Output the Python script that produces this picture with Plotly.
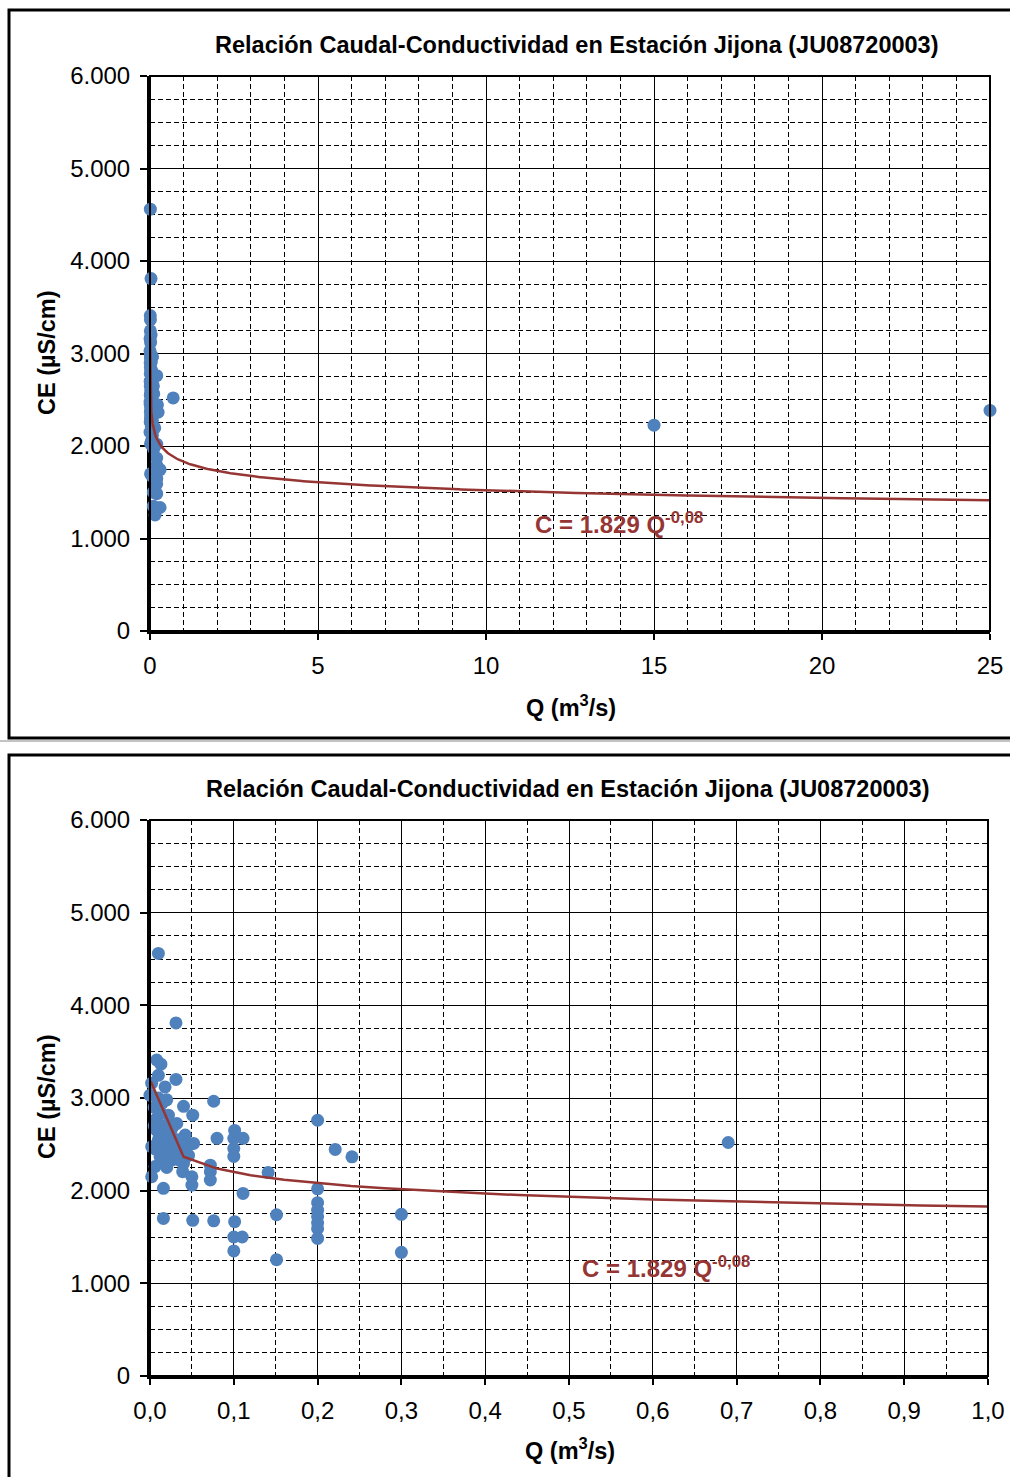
import plotly.graph_objects as go

W, H = 1010, 1477
OFF = 0  # body margin is removed by the post script below

# ---- data ----
Q = [0.010, 0.031, 0.008, 0.013, 0.010, 0.031, 0.002, 0.018, 0.000, 0.020,
     0.076, 0.040, 0.051, 0.022, 0.008, 0.032, 0.200, 0.101, 0.080, 0.100,
     0.111, 0.042, 0.052, 0.002, 0.018, 0.100, 0.100, 0.030, 0.012, 0.221,
     0.241, 0.040, 0.016, 0.006, 0.072, 0.072, 0.072, 0.039, 0.050, 0.050,
     0.002, 0.141, 0.016, 0.111, 0.200, 0.200, 0.200, 0.200, 0.200, 0.200,
     0.200, 0.151, 0.300, 0.300, 0.016, 0.051, 0.076, 0.101, 0.100, 0.110,
     0.100, 0.151, 0.690, 15.0, 25.0,
     0.005, 0.008, 0.010, 0.012, 0.015, 0.020, 0.025, 0.028, 0.033, 0.036,
     0.045, 0.005, 0.012, 0.022, 0.026, 0.035, 0.014, 0.006, 0.046, 0.020,
     0.028, 0.010, 0.015]
CE = [4560, 3810, 3410, 3365, 3245, 3200, 3160, 3120, 3030, 2980,
      2965, 2910, 2815, 2815, 2780, 2725, 2760, 2650, 2565, 2565,
      2565, 2600, 2510, 2475, 2475, 2455, 2370, 2385, 2365, 2445,
      2365, 2295, 2300, 2260, 2275, 2205, 2115, 2205, 2150, 2060,
      2150, 2195, 2025, 1970, 2020, 1870, 1790, 1720, 1650, 1590,
      1485, 1740, 1745, 1335, 1700, 1680, 1675, 1665, 1500, 1500,
      1350, 1255, 2520, 2225, 2385,
      2900, 2650, 2550, 2450, 2700, 2600, 2650, 2500, 2550, 2450,
      2480, 2700, 2850, 2400, 2330, 2330, 2550, 2450, 2380, 2250,
      2700, 3000, 2950]

# power trendline C = a * Q^b (as shown on the chart)
TREND_A = 1829.0
TREND_B = -0.08
TREND_Q = [0.001] + [0.04 * k for k in range(1, 626)]
TREND_C = [TREND_A * q ** TREND_B for q in TREND_Q]

TITLE = "Relación Caudal-Conductividad en Estación Jijona (JU08720003)"
XTITLE = "Q (m<sup>3</sup>/s)"
YTITLE = "CE (µS/cm)"
EQ = "C = 1.829 Q<sup>-0,08</sup>"

BLUE = "#4F81BD"
RED = "#963634"
FONT = "Liberation Sans, Arial, sans-serif"


def px(x):
    return (x - OFF) / W


def py(y):
    return 1 - (y - OFF) / H


fig = go.Figure()

# subplot 1 (full range)
fig.add_trace(go.Scatter(x=Q, y=CE, mode="markers", xaxis="x", yaxis="y",
                         marker=dict(color=BLUE, size=13, line=dict(width=0)),
                         cliponaxis=False, showlegend=False))
fig.add_trace(go.Scatter(x=TREND_Q, y=TREND_C, mode="lines", xaxis="x", yaxis="y",
                         line=dict(color=RED, width=2.5), showlegend=False))

# subplot 2 (zoom 0-1)
q2 = [q for q in Q if q <= 1.0]
c2 = [c for q, c in zip(Q, CE) if q <= 1.0]
t2q = [q for q in TREND_Q if q <= 1.0]
t2c = [c for q, c in zip(TREND_Q, TREND_C) if q <= 1.0]
fig.add_trace(go.Scatter(x=q2, y=c2, mode="markers", xaxis="x2", yaxis="y2",
                         marker=dict(color=BLUE, size=13, line=dict(width=0)),
                         cliponaxis=False, showlegend=False))
fig.add_trace(go.Scatter(x=t2q, y=t2c, mode="lines", xaxis="x2", yaxis="y2",
                         line=dict(color=RED, width=2.5), showlegend=False))

tickfont = dict(family=FONT, size=24, color="black")
dash = "5px,3px"


def xax(domain, anchor, rng, dtick, mdtick, fmt):
    return dict(domain=domain, anchor=anchor, range=rng, dtick=dtick, tick0=0,
                tickformat=fmt, showgrid=True, gridcolor="black", gridwidth=1,
                minor=dict(dtick=mdtick, tick0=0, showgrid=True, gridcolor="black",
                           griddash=dash, gridwidth=1, ticks=""),
                showline=True, linecolor="black", linewidth=3,
                ticks="outside", ticklen=6, tickwidth=2, tickcolor="black",
                ticklabelstandoff=5, automargin=False,
                tickfont=tickfont, zeroline=False, layer="below traces", fixedrange=True)


def yax(domain, anchor):
    return dict(domain=domain, anchor=anchor, range=[0, 6000], dtick=1000, tick0=0,
                tickformat=",d", showgrid=True, gridcolor="black", gridwidth=1,
                minor=dict(dtick=250, tick0=0, showgrid=True, gridcolor="black",
                           griddash=dash, gridwidth=1, ticks=""),
                showline=True, linecolor="black", linewidth=3,
                ticks="outside", ticklen=7, tickwidth=2, tickcolor="black",
                ticklabelstandoff=5, automargin=False,
                tickfont=tickfont, zeroline=False, layer="below traces", fixedrange=True)


fig.update_layout(
    width=W, height=H, autosize=False,
    margin=dict(l=0, r=0, t=0, b=0, pad=0, autoexpand=False),
    paper_bgcolor="white", plot_bgcolor="white",
    separators=",.",
    font=dict(family=FONT, color="black"),
    xaxis=xax([px(150), px(990)], "y", [0, 25], 5, 1, "d"),
    yaxis=yax([py(631), py(76)], "x"),
    xaxis2=xax([px(150), px(988)], "y2", [0, 1], 0.1, 0.05, ".1f"),
    yaxis2=yax([py(1376), py(820)], "x2"),
)

shapes = []
# plot-area borders (top/right)
for xr, yr in (("x", "y"), ("x2", "y2")):
    shapes.append(dict(type="rect", xref=xr + " domain", yref=yr + " domain",
                       x0=0, x1=1, y0=0, y1=1, line=dict(color="black", width=2),
                       layer="above"))
# outer chart frames
shapes.append(dict(type="rect", xref="paper", yref="paper",
                   x0=px(9), x1=px(1030), y0=py(738), y1=py(10),
                   line=dict(color="black", width=3)))
shapes.append(dict(type="rect", xref="paper", yref="paper",
                   x0=px(9), x1=px(1030), y0=py(1500), y1=py(755),
                   line=dict(color="black", width=3)))
# faint separator line under the first frame
shapes.append(dict(type="line", xref="paper", yref="paper",
                   x0=px(0), x1=px(1030), y0=py(741), y1=py(741),
                   line=dict(color="#888888", width=1)))
fig.update_layout(shapes=shapes)

bold = dict(family=FONT, size=23.5, color="black")
ann = []
for (tx, ty), (xx, xy), (yx, yy) in (((577, 45), (571, 706), (47, 353)),
                                       ((568, 789), (570, 1449), (47, 1097))):
    ann.append(dict(text="<b>" + TITLE + "</b>", xref="paper", yref="paper",
                    x=px(tx), y=py(ty), showarrow=False, font=bold,
                    xanchor="center", yanchor="middle"))
    ann.append(dict(text="<b>" + XTITLE + "</b>", xref="paper", yref="paper",
                    x=px(xx), y=py(xy), showarrow=False, font=bold,
                    xanchor="center", yanchor="middle"))
    ann.append(dict(text="<b>" + YTITLE + "</b>", xref="paper", yref="paper",
                    x=px(yx), y=py(yy), showarrow=False, font=bold, textangle=-90,
                    xanchor="center", yanchor="middle"))
ann.append(dict(text="<b>" + EQ + "</b>", xref="x", yref="y", x=11.4, y=1170,
                showarrow=False, xanchor="left", yanchor="middle",
                font=dict(family=FONT, size=24, color=RED)))
ann.append(dict(text="<b>" + EQ + "</b>", xref="x2", yref="y2", x=0.513, y=1180,
                showarrow=False, xanchor="left", yanchor="middle",
                font=dict(family=FONT, size=24, color=RED)))
fig.update_layout(annotations=ann)

fig.write_html("out.html",
               config={"displayModeBar": False},
               post_script="document.body.style.margin='0';"
                           "document.body.style.overflow='hidden';")
